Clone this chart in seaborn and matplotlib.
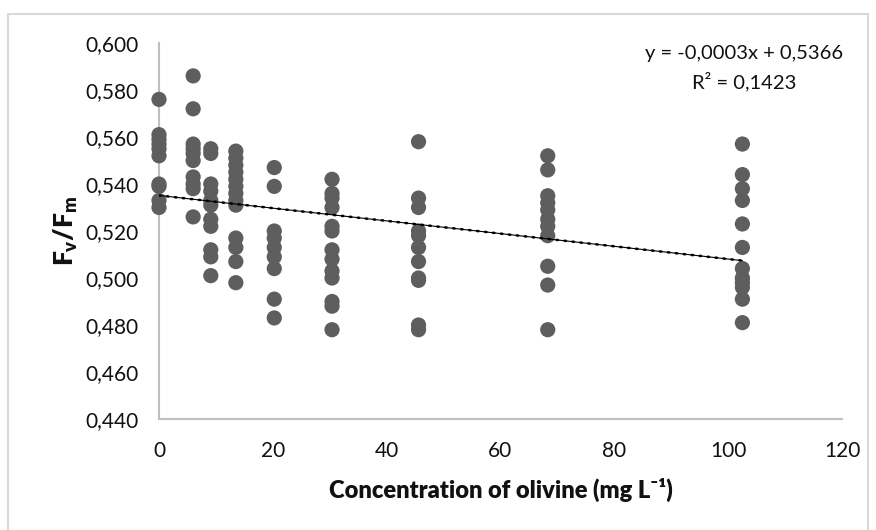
import numpy as np
import pandas as pd
import matplotlib
matplotlib.use("Agg")
import matplotlib.pyplot as plt
import seaborn as sns
from matplotlib.ticker import FuncFormatter
from matplotlib.patches import Rectangle

# ---- data ----
conc_levels = [0, 6, 9.1, 13.5, 20.25, 30.4, 45.6, 68.3, 102.5]
fvfm_c0 = [0.576, 0.561, 0.559, 0.557, 0.555, 0.552, 0.540, 0.539, 0.533, 0.530]
fvfm_c1 = [0.586, 0.572, 0.557, 0.555, 0.553, 0.550, 0.543, 0.540, 0.538, 0.526]
fvfm_c2 = [0.555, 0.553, 0.540, 0.537, 0.533, 0.531, 0.525, 0.522, 0.512, 0.509, 0.501]
fvfm_c3 = [0.554, 0.551, 0.548, 0.545, 0.542, 0.539, 0.536, 0.533, 0.531, 0.517, 0.513, 0.507, 0.498]
fvfm_c4 = [0.547, 0.539, 0.520, 0.517, 0.513, 0.509, 0.504, 0.491, 0.483]
fvfm_c5 = [0.542, 0.536, 0.534, 0.530, 0.522, 0.520, 0.512, 0.508, 0.503, 0.500, 0.490, 0.488, 0.478]
fvfm_c6 = [0.558, 0.534, 0.530, 0.520, 0.518, 0.513, 0.507, 0.500, 0.499, 0.480, 0.478]
fvfm_c7 = [0.552, 0.546, 0.535, 0.532, 0.529, 0.525, 0.522, 0.518, 0.505, 0.497, 0.478]
fvfm_c8 = [0.557, 0.544, 0.538, 0.533, 0.523, 0.513, 0.504, 0.500, 0.498, 0.496, 0.491, 0.481]
groups = [fvfm_c0, fvfm_c1, fvfm_c2, fvfm_c3, fvfm_c4, fvfm_c5, fvfm_c6, fvfm_c7, fvfm_c8]

equation_text = "y = -0,0003x + 0,5366"
r2_text = "R² = 0,1423"
x_title = "Concentration of olivine (mg L⁻¹)"
y_title = r"$F_v/F_m$"
x_ticks = [0, 20, 40, 60, 80, 100, 120]
y_ticks = [0.44, 0.46, 0.48, 0.50, 0.52, 0.54, 0.56, 0.58, 0.60]

rows = []
for c, vals in zip(conc_levels, groups):
    for v in vals:
        rows.append((c, v))
df = pd.DataFrame(rows, columns=["conc", "fvfm"])

# ---- styling ----
sns.set_theme(style="white")
plt.rcParams["font.family"] = ["Lato", "DejaVu Sans"]
plt.rcParams["mathtext.fontset"] = "custom"
plt.rcParams["mathtext.rm"] = "Lato:heavy"
plt.rcParams["mathtext.it"] = "Lato:heavy"
plt.rcParams["mathtext.bf"] = "Lato:heavy"

W, H = 876, 530
fig = plt.figure(figsize=(W / 100, H / 100), dpi=100)
fig.patch.set_facecolor("white")
ax = fig.add_axes([159 / W, 1 - 419 / H, (842 - 159) / W, (419 - 43) / H])

# outer chart border
fig.add_artist(Rectangle((8 / W, -0.05), (868 - 8) / W, (1 - 14 / H) + 0.05,
                         transform=fig.transFigure, fill=False,
                         edgecolor="#D9D9D9", lw=1.5))

sns.scatterplot(data=df, x="conc", y="fvfm", ax=ax, color="#5E5E5E",
                s=120, edgecolor="none", linewidth=0, zorder=3, clip_on=False)
sns.regplot(data=df, x="conc", y="fvfm", ax=ax, scatter=False, ci=None,
            truncate=True, line_kws=dict(color="black", lw=0.8, zorder=4))
sns.regplot(data=df, x="conc", y="fvfm", ax=ax, scatter=False, ci=None,
            truncate=True, line_kws=dict(color="black", lw=1.8,
                                         linestyle=(0, (0.6, 2.6)),
                                         dash_capstyle="round", zorder=4))

ax.set_xlim(0, 120)
ax.set_ylim(0.44, 0.60)
ax.set_xticks(x_ticks)
ax.set_yticks(y_ticks)
ax.yaxis.set_major_formatter(FuncFormatter(lambda v, p: f"{v:.3f}".replace(".", ",")))
ax.xaxis.set_major_formatter(FuncFormatter(lambda v, p: f"{v:.0f}"))
ax.tick_params(axis="both", length=0, labelsize=15, colors="#111111")
ax.tick_params(axis="y", pad=15)
ax.tick_params(axis="x", pad=16)

for side in ["top", "right"]:
    ax.spines[side].set_visible(False)
for side in ["left", "bottom"]:
    ax.spines[side].set_color("#BFBFBF")
    ax.spines[side].set_linewidth(1.5)
ax.grid(False)

ax.set_xlabel(x_title, fontsize=17, family=["Lato", "DejaVu Sans"],
              fontweight="heavy", color="#111111")
ax.set_ylabel(y_title, fontsize=19, color="#111111")
ax.xaxis.set_label_coords(0.5, -(478 - 419) / (419 - 43))
ax.yaxis.set_label_coords(-(159 - 80) / (842 - 159), 0.5)

fig.text(744 / W, 1 - 53 / H, equation_text, ha="center", va="center",
         fontsize=14.5, color="#111111")
fig.text(744 / W, 1 - 82 / H, r2_text, ha="center", va="center",
         fontsize=14.5, color="#111111")

fig.savefig("out.png", dpi=100)
